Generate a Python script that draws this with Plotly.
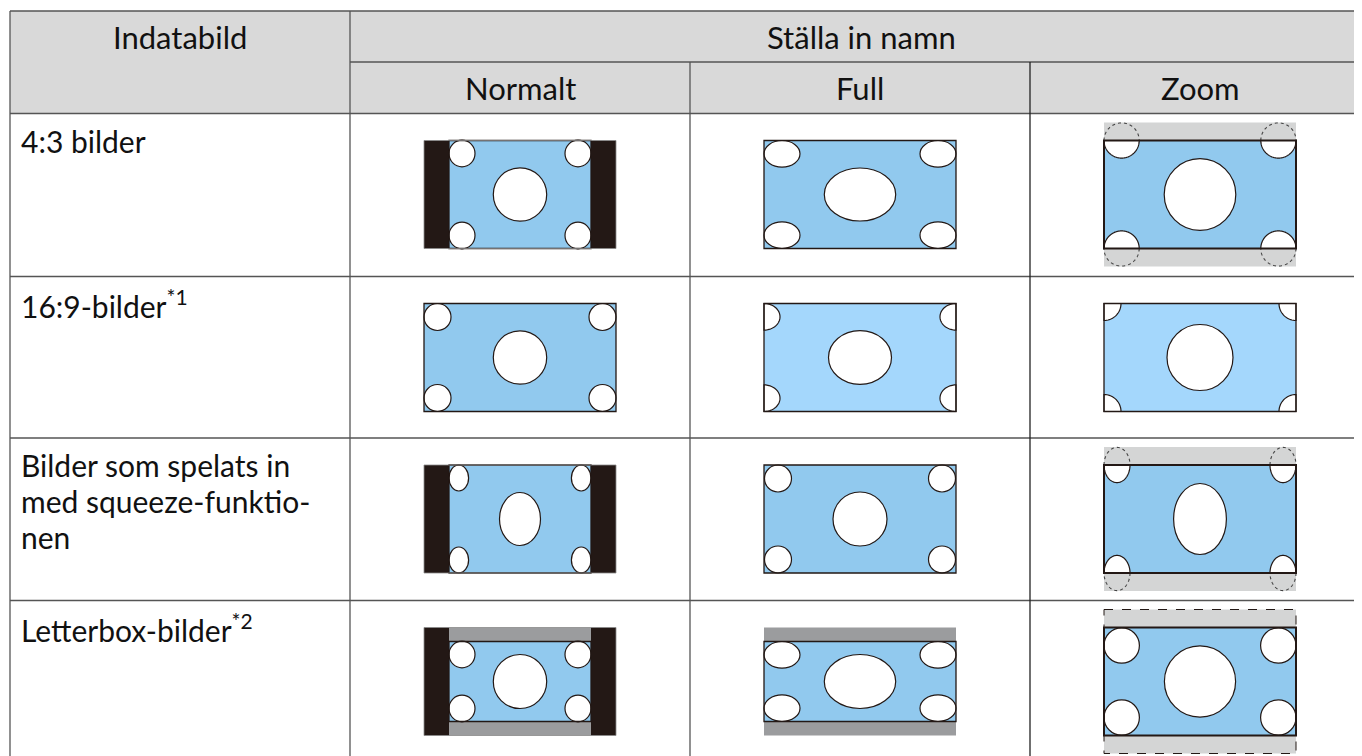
import math
import plotly.graph_objects as go

# table text
header_left = "Indatabild"
header_group = "Ställa in namn"
modes = ["Normalt", "Full", "Zoom"]
categories = [
    "4:3 bilder",
    "16:9-bilder<sup>*1</sup>",
    "Bilder som spelats in<br>med squeeze-funktio-<br>nen",
    "Letterbox-bilder<sup>*2</sup>",
]

# diagram description per (row, mode): corner marks (offset x, offset y, rx, ry, style) and centre mark (rx, ry)
BLUE = "#91c9ee"
LIGHT = "#a4d7fc"
cells = {
    (0, 0): dict(bars=True, corner=(58, 41, 13, 13.3, "full"), center=(26.7, 26.7)),
    (0, 1): dict(corner=(78, 40.7, 18, 13.3, "full"), center=(35.7, 26.5)),
    (0, 2): dict(zoom="circle", corner=(78.4, 54, 17.6, 17.6, "split"), center=(35.8, 35.8)),
    (1, 0): dict(corner=(82.5, 40.5, 13.5, 13.5, "full"), center=(26.7, 26.7)),
    (1, 1): dict(blue=LIGHT, corner=(96, 40.7, 16, 13.3, "clip"), center=(31.5, 26.8)),
    (1, 2): dict(blue=LIGHT, corner=(96, 54, 17, 17, "clip"), center=(33, 33)),
    (2, 0): dict(bars=True, corner=(61.2, 41, 9.8, 13, "full"), center=(20.5, 26.5)),
    (2, 1): dict(corner=(82, 40.5, 13.5, 13.5, "full"), center=(27, 27)),
    (2, 2): dict(zoom="circle", corner=(83, 54, 13, 17.6, "split"), center=(26.4, 35.5)),
    (3, 0): dict(bars=True, lb=14, corner=(58, 27, 13, 13.3, "full"), center=(26.7, 27)),
    (3, 1): dict(lb=14, corner=(78, 26.7, 18, 13.3, "full"), center=(35.7, 27)),
    (3, 2): dict(zoom="dashed", corner=(78.3, 36, 17.7, 17.7, "full"), center=(35.6, 35.6)),
}

W, H = 1362, 756
PAGE = 8  # default body margin of the html page
X_LEFT, X_C1, X_C2, X_C3, X_RIGHT = 10, 350, 690, 1030, 1372
Y_TOP, Y_MID, Y_HEAD = 11, 62, 113.5
row_tops = [113.5, 276.5, 438, 600.5]
col_centers = [520, 860, 1200]
GRID = "#555555"
INK = "#231815"

shapes = []


def rect(x0, y0, x1, y1, fill="rgba(0,0,0,0)", color=None, width=0, dash="solid"):
    shapes.append(dict(type="rect", x0=x0, y0=y0, x1=x1, y1=y1, fillcolor=fill,
                       line=dict(color=color or "rgba(0,0,0,0)", width=width, dash=dash)))


def line(x0, y0, x1, y1, color=GRID, width=1.3):
    shapes.append(dict(type="line", x0=x0, y0=y0, x1=x1, y1=y1, line=dict(color=color, width=width)))


def ellipse_path(cx, cy, rx, ry, a0=0, a1=360, clip=None, close=True, n=90):
    pts = []
    for i in range(n + 1):
        t = math.radians(a0 + (a1 - a0) * i / n)
        x, y = cx + rx * math.cos(t), cy + ry * math.sin(t)
        if clip:
            x = min(max(x, clip[0]), clip[2])
            y = min(max(y, clip[1]), clip[3])
        pts.append(f"{x:.2f},{y:.2f}")
    return "M" + " L".join(pts) + (" Z" if close else "")


def path(d, fill="white", color=INK, width=1.2, dash="solid"):
    shapes.append(dict(type="path", path=d, fillcolor=fill, line=dict(color=color, width=width, dash=dash)))


def circle(cx, cy, rx, ry):
    shapes.append(dict(type="circle", x0=cx - rx, y0=cy - ry, x1=cx + rx, y1=cy + ry,
                       fillcolor="white", line=dict(color=INK, width=1.2)))


def diagram(cx, cy, spec):
    iw = 71 if spec.get("bars") else 96
    lb = spec.get("lb", 0)
    blue = spec.get("blue", BLUE)
    zoom = spec.get("zoom")
    if zoom:
        rect(cx - 96, cy - 72, cx + 96, cy + 72, fill="#d4d5d5",
             color=INK if zoom == "dashed" else None, width=1 if zoom == "dashed" else 0, dash="dash")
    if spec.get("bars"):
        rect(cx - 96, cy - 54, cx - iw, cy + 54, fill=INK)
        rect(cx + iw, cy - 54, cx + 96, cy + 54, fill=INK)
    if lb:
        rect(cx - iw, cy - 54, cx + iw, cy - 54 + lb, fill="#9b9c9e")
        rect(cx - iw, cy + 54 - lb, cx + iw, cy + 54, fill="#9b9c9e")
    box = (cx - iw, cy - 54 + lb, cx + iw, cy + 54 - lb)
    rect(*box, fill=blue)
    ox, oy, rx, ry, style = spec["corner"]
    for sx in (-1, 1):
        for sy in (-1, 1):
            px, py = cx + sx * ox, cy + sy * oy
            if style == "full":
                circle(px, py, rx, ry)
            elif style == "clip":
                path(ellipse_path(px, py, rx, ry, clip=box))
            else:
                inner = (0, 180) if sy < 0 else (180, 360)
                outer = (180, 360) if sy < 0 else (0, 180)
                path(ellipse_path(px, py, rx, ry, *inner, clip=box))
                path(ellipse_path(px, py, rx, ry, *outer, close=False), fill="rgba(0,0,0,0)",
                     color="#444444", width=1.1, dash="dot")
    circle(cx, cy, *spec["center"])
    rect(*box, color=INK, width=2 if zoom else 1.3)
    if spec.get("bars"):
        rect(cx - 96, cy - 54, cx + 96, cy + 54, color="#8a8a8a", width=0.8)


# header background
rect(X_LEFT, Y_TOP, X_RIGHT, Y_HEAD, fill="#d9d9d9")

for (r, c), spec in cells.items():
    diagram(col_centers[c], row_tops[r] + 81, spec)

# grid
line(X_LEFT, Y_TOP, X_RIGHT, Y_TOP)
line(X_C1, Y_MID, X_RIGHT, Y_MID)
for y in [Y_HEAD] + row_tops[1:]:
    line(X_LEFT, y, X_RIGHT, y)
line(X_LEFT, Y_TOP, X_LEFT, H + 5)
line(X_C1, Y_TOP, X_C1, H + 5)
line(X_C2, Y_MID, X_C2, H + 5)
line(X_C3, Y_MID, X_C3, H + 5, color="#222222")

FONT = dict(family="Lato", size=31, color="#111111")
LABEL_FONT = dict(family="Lato", size=30, color="#111111")
ann = []
ann.append(dict(x=(X_LEFT + X_C1) / 2, y=37, text=header_left, font=FONT))
ann.append(dict(x=(X_C1 + X_RIGHT) / 2, y=37, text=header_group, font=FONT))
for i, m in enumerate(modes):
    ann.append(dict(x=col_centers[i], y=88, text=m, font=FONT))
for a in ann:
    a.update(xanchor="center")
for r, label in enumerate(categories):
    for k, part in enumerate(label.split("<br>")):
        ann.append(dict(x=19, y=row_tops[r] + 27 + 36 * k, text=part, xanchor="left", font=LABEL_FONT))
for a in ann:
    a.update(xref="x", yref="y", yanchor="middle", showarrow=False)

fig = go.Figure()
fig.update_layout(
    width=W, height=H, margin=dict(l=0, r=0, t=0, b=0),
    paper_bgcolor="white", plot_bgcolor="white",
    xaxis=dict(range=[PAGE, W + PAGE], visible=False, fixedrange=True),
    yaxis=dict(range=[H + PAGE, PAGE], visible=False, fixedrange=True),
    shapes=shapes, annotations=ann, showlegend=False,
)
fig.write_html("out.html")
